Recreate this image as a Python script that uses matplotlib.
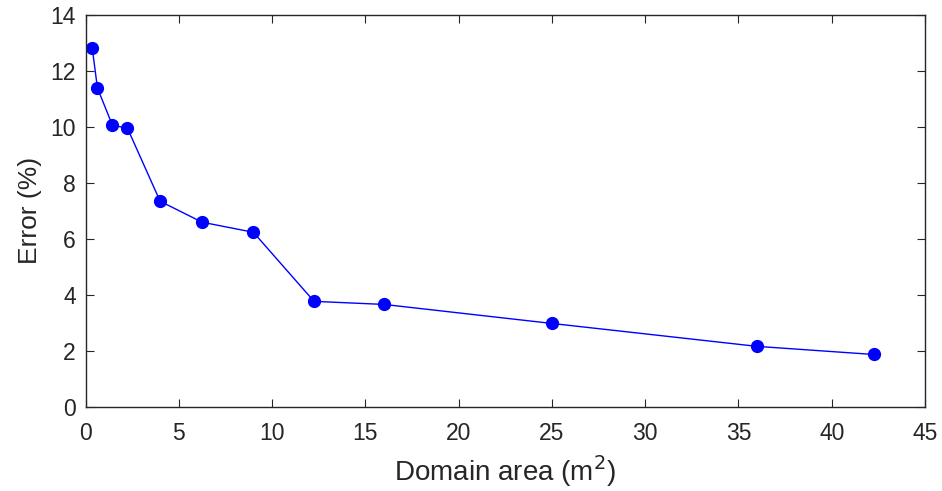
import matplotlib
matplotlib.use("Agg")
import matplotlib.pyplot as plt

area = [0.36, 0.64, 1.44, 2.25, 4.0, 6.25, 9.0, 12.25, 16.0, 25.0, 36.0, 42.25]
error = [12.82, 11.39, 10.06, 9.95, 7.34, 6.59, 6.23, 3.76, 3.65, 2.97, 2.15, 1.86]
xticks = [0, 5, 10, 15, 20, 25, 30, 35, 40, 45]
yticks = [0, 2, 4, 6, 8, 10, 12, 14]

plt.rcParams['font.family'] = ['Liberation Sans', 'DejaVu Sans']
gray = '#262626'

fig = plt.figure(figsize=(9.42, 4.91), dpi=100)
ax = fig.add_axes([85.5/942, (491-406.5)/491, (925-85.5)/942, (406.5-15)/491])
ax.plot(area, error, '-o', color='#0000ff', lw=1, markersize=8.5)
ax.set_xlim(0, 45)
ax.set_ylim(0, 14)
ax.set_xticks(xticks)
ax.set_yticks(yticks)
ax.tick_params(direction='in', top=True, right=True, labelsize=16.5, colors=gray, length=6, width=0.8)
ax.tick_params(axis='x', pad=11)
ax.tick_params(axis='y', pad=7)
for s in ax.spines.values():
    s.set_color(gray)
    s.set_linewidth(1)
ax.set_xlabel('Domain area (m$^2$)', fontsize=20, color=gray, labelpad=6)
ax.set_ylabel('Error (%)', fontsize=19, color=gray, labelpad=6)
fig.savefig('out.png', dpi=100)
